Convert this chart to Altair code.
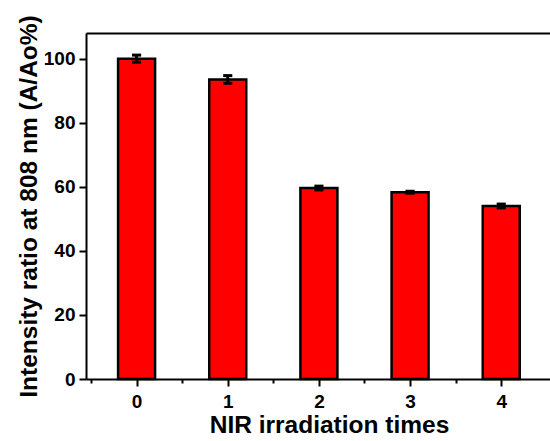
import altair as alt
import pandas as pd

times = [0, 1, 2, 3, 4]
ratio = [100.0, 93.5, 59.6, 58.3, 54.0]
err = [1.1, 1.2, 0.6, 0.3, 0.6]

df = pd.DataFrame({"t": times, "v": ratio, "e": err})

FONT = "Liberation Sans"
W, H = 464, 346
xscale = alt.Scale(domain=[-0.5, 4.48], nice=False, zero=False)
yscale = alt.Scale(domain=[0, 108], nice=False)

xaxis = alt.Axis(
    values=[-0.5, 0, 0.5, 1, 1.5, 2, 2.5, 3, 3.5, 4],
    labelExpr="datum.value % 1 === 0 ? '' + datum.value : ''",
    tickSize={"condition": {"test": "datum.value % 1 !== 0", "value": 4}, "value": 7},
    tickWidth=2, tickColor="black", domainWidth=2, domainColor="black",
    labelFont=FONT, labelFontWeight="bold", labelFontSize=19, labelColor="black",
    labelPadding=6, labelFlush=False, labelOverlap=False, grid=False,
    title="NIR irradiation times", titleFont=FONT, titleFontWeight="bold",
    titleFontSize=24.5, titleColor="black", titleBaseline="alphabetic",
    titleY=53, titleX=243, titleAlign="center",
)
yaxis = alt.Axis(
    values=list(range(0, 101, 10)),
    labelExpr="datum.value % 20 === 0 ? '' + datum.value : ''",
    tickSize={"condition": {"test": "datum.value % 20 !== 0", "value": 4}, "value": 7},
    tickWidth=2, tickColor="black", domainWidth=2, domainColor="black",
    labelFont=FONT, labelFontWeight="bold", labelFontSize=19, labelColor="black",
    labelPadding=4, labelOverlap=False, grid=False,
    title="Intensity ratio at 808 nm (A/Ao%)", titleFont=FONT, titleFontWeight="bold",
    titleFontSize=24.5, titleColor="black", titleX=-57, titleBaseline="middle",
)
topaxis = alt.Axis(orient="top", labels=False, ticks=False, domainWidth=2,
                   domainColor="black", title=None, grid=False)

base = alt.Chart(df)
bars = base.mark_bar(size=37, color="#ff0000", stroke="black", strokeWidth=2.5).encode(
    x=alt.X("t:Q", scale=xscale, axis=xaxis),
    y=alt.Y("v:Q", scale=yscale, axis=yaxis),
)
ebase = base.transform_calculate(
    lo="datum.v - datum.e", hi="datum.v + datum.e",
    xl="datum.t - 0.05", xr="datum.t + 0.05",
)
vline = ebase.mark_rule(color="black", strokeWidth=3).encode(
    x=alt.X("t:Q", scale=xscale, axis=topaxis),
    y=alt.Y("lo:Q", scale=yscale), y2="hi:Q",
)
capt = ebase.mark_rule(color="black", strokeWidth=3).encode(
    x=alt.X("xl:Q", scale=xscale, axis=None), x2="xr:Q",
    y=alt.Y("hi:Q", scale=yscale),
)
capb = ebase.mark_rule(color="black", strokeWidth=3).encode(
    x=alt.X("xl:Q", scale=xscale, axis=None), x2="xr:Q",
    y=alt.Y("lo:Q", scale=yscale),
)

chart = alt.layer(bars, vline, capt, capb).resolve_axis(x="independent").properties(
    width=W, height=H,
    autosize=alt.AutoSizeParams(type="none"),
    padding={"left": 86, "top": 33, "right": 0, "bottom": 62},
    background="white",
).configure_view(stroke=None)

chart.save("out.html", embed_options={"renderer": "svg", "actions": False})
